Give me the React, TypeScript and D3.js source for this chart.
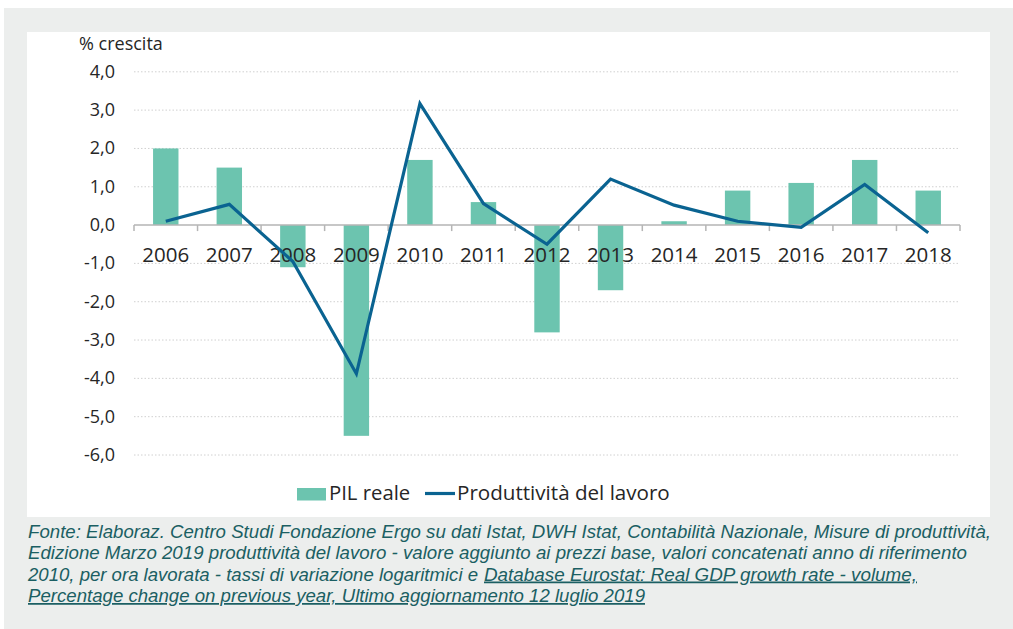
import React from "react";
import * as d3 from "d3";

const years = ["2006","2007","2008","2009","2010","2011","2012","2013","2014","2015","2016","2017","2018"];
const pilReale = [2.0, 1.5, -1.1, -5.5, 1.7, 0.6, -2.8, -1.7, 0.1, 0.9, 1.1, 1.7, 0.9];
const produttivita = [0.1, 0.54, -0.95, -3.88, 3.17, 0.56, -0.5, 1.2, 0.52, 0.1, -0.06, 1.06, -0.2];
const yTicks = [4, 3, 2, 1, 0, -1, -2, -3, -4, -5, -6];
const yAxisTitle = "% crescita";
const legendLabels = ["PIL reale", "Produttività del lavoro"];
const sourceLines = [
  "Fonte: Elaboraz. Centro Studi Fondazione Ergo su dati Istat, DWH Istat, Contabilità Nazionale, Misure di produttività,",
  "Edizione Marzo 2019 produttività del lavoro - valore aggiunto ai prezzi base, valori concatenati anno di riferimento",
  "2010, per ora lavorata - tassi di variazione logaritmici e",
];
const sourceLinks = [
  "Database Eurostat: Real GDP growth rate - volume,",
  "Percentage change on previous year, Ultimo aggiornamento 12 luglio 2019",
];

const BAR = "#6cc4af";
const LINE = "#0a6391";
const TEXT = "#262626";
const SRC = "#1b5f63";
const FONT = "'Open Sans', sans-serif";
const NARROW = "'Liberation Sans Narrow', 'Arial Narrow', sans-serif";

export default function App() {
  const x = d3.scaleBand<string>().domain(years).range([134, 960]).paddingInner(0.6).paddingOuter(0.3);
  const xb = d3.scaleBand<string>().domain(years).range([134, 960]);
  const y = d3.scaleLinear().domain([-6, 4]).range([455, 71.8]);
  const line = d3.line<number>().x((_, i) => (xb(years[i]) as number) + xb.bandwidth() / 2).y((d) => y(d));
  const boundaries = d3.range(years.length + 1).map((i) => 134 + i * xb.step());

  return (
    <svg width={1013} height={629} style={{ position: "absolute", left: 0, top: 0 }}>
      <rect x={0} y={0} width={1013} height={629} fill="#ffffff" />
      <rect x={4} y={8} width={1009} height={621} fill="#eceeed" />
      <rect x={27} y={32} width={963} height={485} fill="#ffffff" />
      <text x={79} y={50} fontFamily={FONT} fontSize={18} fill={TEXT}>{yAxisTitle}</text>
      {yTicks.map((t) => (
        <g key={t}>
          {t !== 0 && (
            <line x1={134} x2={960} y1={y(t)} y2={y(t)} stroke="#d0d0d0" strokeWidth={1} strokeDasharray="1.5,2" />
          )}
          <text x={115} y={y(t)} dy={6} textAnchor="end" fontFamily={FONT} fontSize={18} fill={TEXT}>
            {d3.format(".1f")(t).replace(".", ",").replace("−", "-")}
          </text>
        </g>
      ))}
      {years.map((yr, i) => {
        const v = pilReale[i];
        return (
          <rect key={yr} x={x(yr)} width={x.bandwidth()} y={y(Math.max(0, v))} height={Math.abs(y(v) - y(0))} fill={BAR} />
        );
      })}
      <line x1={134} x2={960} y1={y(0)} y2={y(0)} stroke="#b5b5b5" strokeWidth={1.5} />
      {boundaries.map((bx, i) => (
        <line key={i} x1={bx} x2={bx} y1={y(0)} y2={y(0) + 6} stroke="#b5b5b5" strokeWidth={1.5} />
      ))}
      {years.map((yr) => (
        <text key={yr} x={(xb(yr) as number) + xb.bandwidth() / 2} y={261.5} textAnchor="middle" fontFamily={FONT} fontSize={20.5} fill={TEXT}>
          {yr}
        </text>
      ))}
      <path d={line(produttivita) as string} fill="none" stroke={LINE} strokeWidth={3.2} strokeLinejoin="miter" />
      <rect x={297} y={488} width={29} height={12.5} fill={BAR} />
      <text x={329} y={500} fontFamily={FONT} fontSize={20.3} fill={TEXT}>{legendLabels[0]}</text>
      <line x1={425} x2={455} y1={493.5} y2={493.5} stroke={LINE} strokeWidth={3.2} />
      <text x={457} y={500} fontFamily={FONT} fontSize={20.6} fill={TEXT}>{legendLabels[1]}</text>
      <g fontFamily={NARROW} fontStyle="italic" fontSize={17.5} fill={SRC}>
        <text x={28} y={537.5} textLength={963} lengthAdjust="spacingAndGlyphs">{sourceLines[0]}</text>
        <text x={28} y={559} textLength={939} lengthAdjust="spacingAndGlyphs">{sourceLines[1]}</text>
        <text x={28} y={580.5} textLength={450} lengthAdjust="spacingAndGlyphs">{sourceLines[2]}</text>
        <text x={484} y={580.5} textLength={433} lengthAdjust="spacingAndGlyphs" textDecoration="underline">{sourceLinks[0]}</text>
        <text x={28} y={602} textLength={617} lengthAdjust="spacingAndGlyphs" textDecoration="underline">{sourceLinks[1]}</text>
      </g>
    </svg>
  );
}
